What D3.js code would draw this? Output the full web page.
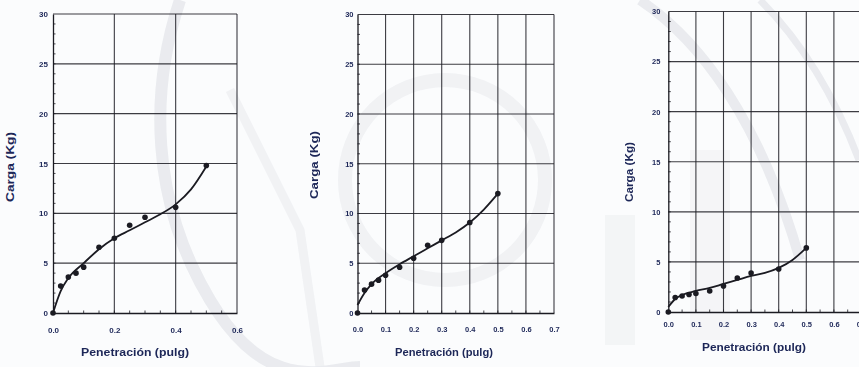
<!DOCTYPE html>
<html>
<head>
<meta charset="utf-8">
<script src="https://cdn.jsdelivr.net/npm/d3@7"></script>
<style>
  html, body { margin: 0; padding: 0; background: #fbfcfd; }
  svg { display: block; }
  text { font-family: "Liberation Sans", Arial, sans-serif; font-weight: bold; fill: #1d2758; }
</style>
</head>
<body>
<svg id="chart" width="859" height="367"></svg>
<script>
// CBR load–penetration tests (three specimens)
const penetration = [0, 0.025, 0.05, 0.075, 0.1, 0.15, 0.2, 0.25, 0.3, 0.4, 0.5];
const loadA = [0, 2.7, 3.6, 4.0, 4.6, 6.6, 7.5, 8.8, 9.6, 10.6, 14.8];
const loadB = [0, 2.3, 2.9, 3.3, 3.8, 4.6, 5.5, 6.8, 7.3, 9.1, 12.0];
const loadC = [0, 1.45, 1.6, 1.75, 1.85, 2.1, 2.6, 3.4, 3.9, 4.3, 6.4];

// fitted trend curves
const trendX = [0, 0.025, 0.05, 0.1, 0.15, 0.2, 0.25, 0.3, 0.35, 0.4, 0.45, 0.5];
const trendA = [0, 2.2, 3.5, 5.0, 6.4, 7.5, 8.3, 9.1, 9.9, 10.9, 12.4, 14.7];
const trendB = [0.8, 2.0, 2.9, 4.0, 4.9, 5.7, 6.5, 7.3, 8.1, 9.1, 10.4, 12.0];
const trendC = [0.5, 1.3, 1.7, 2.1, 2.4, 2.8, 3.2, 3.6, 3.9, 4.4, 5.2, 6.4];

const yTicks = [0, 5, 10, 15, 20, 25, 30];
const xTicksA = [0, 0.2, 0.4, 0.6];
const xTicksBC = [0, 0.1, 0.2, 0.3, 0.4, 0.5, 0.6, 0.7];

const xTitle = "Penetración (pulg)";
const yTitle = "Carga (Kg)";

const svg = d3.select("#chart");
const ink = "#1b1b22";

// faint background watermark
const wm = svg.append("g").attr("fill", "none").attr("stroke", "#d4d7de").attr("opacity", 0.45);
wm.append("path").attr("d", "M180,0 C150,90 150,200 210,300 S330,367 360,367").attr("stroke-width", 12);
wm.append("path").attr("d", "M230,90 L300,230 L320,367").attr("stroke-width", 9).attr("opacity", 0.6);
wm.append("circle").attr("cx", 445).attr("cy", 180).attr("r", 100).attr("stroke-width", 14).attr("opacity", 0.6);
wm.append("path").attr("d", "M640,0 C700,40 760,120 800,260").attr("stroke-width", 10);
wm.append("path").attr("d", "M760,0 C810,50 840,110 859,160").attr("stroke-width", 7);
wm.append("rect").attr("x", 605).attr("y", 215).attr("width", 30).attr("height", 130).attr("fill", "#dcdfe4").attr("stroke", "none").attr("opacity", 0.6);
wm.append("rect").attr("x", 690).attr("y", 150).attr("width", 40).attr("height", 190).attr("fill", "#e0e2e6").attr("stroke", "none").attr("opacity", 0.5);

const panels = [
  { x0: 53, x1: 237, xmax: 0.6, top: 14, bot: 313, ticks: xTicksA, grid: xTicksA, minorX: 0.05,
    pts: loadA, trend: trendA, ylab: 5, xlabY: 333, titleX: 135, titleY: 356, titleW: 108,
    ytX: 14, ytY: 167, ytW: 70, fs: 8 },
  { x0: 357.5, x1: 554, xmax: 0.7, top: 14.5, bot: 313, ticks: xTicksBC, grid: xTicksBC, minorX: 0.05,
    pts: loadB, trend: trendB, ylab: 4, xlabY: 333, titleX: 444, titleY: 356, titleW: 98,
    ytX: 318, ytY: 165, ytW: 68, fs: 7.5 },
  { x0: 668.3, x1: 861.5, xmax: 0.7, top: 11.5, bot: 312, ticks: xTicksBC, grid: xTicksBC, minorX: 0.05,
    pts: loadC, trend: trendC, ylab: 8, xlabY: 328, titleX: 754, titleY: 351, titleW: 104,
    ytX: 633, ytY: 172, ytW: 60, fs: 7.5 }
];

panels.forEach(p => {
  const x = d3.scaleLinear().domain([0, p.xmax]).range([p.x0, p.x1]);
  const y = d3.scaleLinear().domain([0, 30]).range([p.bot, p.top]);
  const g = svg.append("g");

  // gridlines
  g.append("g").selectAll("line.h").data(yTicks.filter(v => v > 0)).join("line")
    .attr("x1", p.x0).attr("x2", p.x1).attr("y1", d => y(d)).attr("y2", d => y(d))
    .attr("stroke", ink).attr("stroke-width", 1.1).attr("opacity", 0.85);
  g.append("g").selectAll("line.v").data(p.grid.filter(v => v > 0)).join("line")
    .attr("x1", d => x(d)).attr("x2", d => x(d)).attr("y1", p.top).attr("y2", p.bot)
    .attr("stroke", ink).attr("stroke-width", 1.1).attr("opacity", 0.85);

  // axes
  const yAxis = d3.axisLeft(y).tickValues(yTicks).tickSize(0).tickPadding(p.ylab).tickFormat(d3.format("d"));
  const yg = g.append("g").attr("transform", `translate(${p.x0},0)`).call(yAxis);
  const xAxis = d3.axisBottom(x).tickValues(p.ticks).tickSize(0).tickPadding(p.xlabY - p.bot - 6).tickFormat(d3.format(".1f"));
  const xg = g.append("g").attr("transform", `translate(0,${p.bot})`).call(xAxis);
  [yg, xg].forEach(a => {
    a.select(".domain").attr("stroke", ink).attr("stroke-width", 1.3);
    a.selectAll("text").style("font-size", p.fs + "px").style("font-weight", "900").attr("fill", "#1d2758");
  });

  // minor ticks
  g.append("g").selectAll("line").data(d3.range(1, 30)).join("line")
    .attr("x1", p.x0).attr("x2", p.x0 + 2.5).attr("y1", d => y(d)).attr("y2", d => y(d))
    .attr("stroke", ink).attr("stroke-width", 0.8);
  g.append("g").selectAll("line").data(d3.range(1, Math.round(p.xmax / p.minorX))).join("line")
    .attr("x1", d => x(d * p.minorX)).attr("x2", d => x(d * p.minorX)).attr("y1", p.bot).attr("y2", p.bot - 2.5)
    .attr("stroke", ink).attr("stroke-width", 0.8);

  // trend curve
  const line = d3.line().x((d, i) => x(trendX[i])).y(d => y(d)).curve(d3.curveMonotoneX);
  g.append("path").attr("d", line(p.trend)).attr("fill", "none").attr("stroke", ink).attr("stroke-width", 1.8);

  // measured points
  g.append("g").selectAll("circle").data(p.pts).join("circle")
    .attr("cx", (d, i) => x(penetration[i])).attr("cy", d => y(d)).attr("r", 2.8).attr("fill", ink);

  // titles
  svg.append("text").attr("x", p.titleX).attr("y", p.titleY).attr("text-anchor", "middle")
    .attr("textLength", p.titleW).attr("lengthAdjust", "spacingAndGlyphs")
    .style("font-size", "11px").text(xTitle);
  svg.append("text").attr("transform", `translate(${p.ytX},${p.ytY}) rotate(-90)`).attr("text-anchor", "middle")
    .attr("textLength", p.ytW).attr("lengthAdjust", "spacingAndGlyphs")
    .style("font-size", "10.5px").text(yTitle);
});
</script>
</body>
</html>
